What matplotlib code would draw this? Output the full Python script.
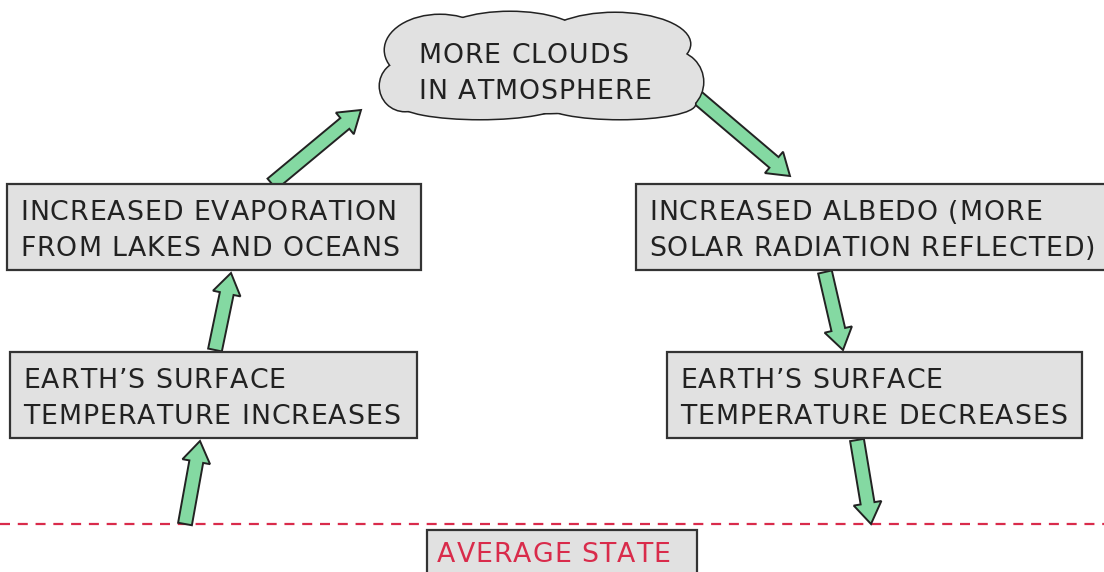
import matplotlib
matplotlib.use("Agg")
import matplotlib.pyplot as plt
from matplotlib.patches import Rectangle, Ellipse, FancyArrow
from matplotlib.font_manager import findfont, FontProperties
from matplotlib.ft2font import FT2Font

W, H = 1104, 572
FAMILY = "DejaVu Sans"

# Diagram content
box_labels = [
    ["INCREASED EVAPORATION", "FROM LAKES AND OCEANS"],
    ["EARTH\u2019S SURFACE", "TEMPERATURE INCREASES"],
    ["INCREASED ALBEDO (MORE", "SOLAR RADIATION REFLECTED)"],
    ["EARTH\u2019S SURFACE", "TEMPERATURE DECREASES"],
]
box_rects = [(7, 184, 414, 86), (10, 352, 407, 86), (636, 184, 480, 86), (667, 352, 415, 86)]
box_text_x = [20, 23, 649, 680]
cloud_label = ["MORE CLOUDS", "IN ATMOSPHERE"]
avg_label = ["AVERAGE STATE"]
arrows = [((185, 524), (200, 441)), ((215, 350), (231, 273)), ((272, 184), (361, 110)),
          ((697, 97), (790, 176)), ((825, 272), (843, 350)), ((857, 440), (871, 524))]

fig = plt.figure(figsize=(W / 100, H / 100), dpi=100)
ax = fig.add_axes([0, 0, 1, 1])
ax.set_xlim(0, W)
ax.set_ylim(H, 0)
ax.axis("off")

BOXFC = "#e1e1e1"
EDGE = "#333333"
GREEN = "#84d9a2"
RED = "#d92b4b"
FS = 19.3
TRACK = 1.0
LINE_GAP = 36

_ft = FT2Font(findfont(FontProperties(family=FAMILY)))
_ft.set_size(FS, 100)


def advance(ch):
    try:
        from matplotlib.ft2font import LoadFlags
        g = _ft.load_char(ord(ch), flags=LoadFlags.NO_HINTING)
    except Exception:
        g = _ft.load_char(ord(ch))
    return g.linearHoriAdvance / 65536.0


def tracked(x, baseline, lines, color, z):
    for i, line in enumerate(lines):
        cx = x
        for ch in line:
            if ch != " ":
                ax.text(cx, baseline + i * LINE_GAP, ch, ha="left", va="baseline",
                        fontsize=FS, family=FAMILY, color=color, zorder=z)
            cx += advance(ch) + TRACK


# Arrows
for (x0, y0), (x1, y1) in arrows:
    ax.add_patch(FancyArrow(x0, y0, x1 - x0, y1 - y0, width=14, head_width=28,
                            head_length=21, length_includes_head=True,
                            fc=GREEN, ec="#222222", lw=1.4, zorder=2))

# Boxes
for (x, y, w, h), tx, lab in zip(box_rects, box_text_x, box_labels):
    ax.add_patch(Rectangle((x, y), w, h, fc=BOXFC, ec=EDGE, lw=1.6, zorder=3))
    tracked(tx, y + 36, lab, "#222222", 4)

# Cloud
bumps = [(543, 68, 300, 90), (440, 50, 110, 70), (510, 36, 140, 48), (615, 44, 150, 62),
         (672, 82, 62, 62), (405, 86, 50, 50), (480, 104, 160, 30), (620, 104, 150, 30)]
for (cx, cy, w, h) in bumps:
    ax.add_patch(Ellipse((cx, cy), w, h, fc=BOXFC, ec="#222222", lw=2.2, zorder=5))
for (cx, cy, w, h) in bumps:
    ax.add_patch(Ellipse((cx, cy), w, h, fc=BOXFC, ec="none", zorder=6))
tracked(418, 63, cloud_label, "#222222", 7)

# Average state line and box
ax.plot([0, W], [524, 524], ls=(0, (4.5, 3.5)), color=RED, lw=1.6, zorder=1)
ax.add_patch(Rectangle((427, 530), 270, 60, fc=BOXFC, ec=EDGE, lw=1.6, zorder=3))
tracked(437, 562, avg_label, RED, 4)

fig.savefig("out.png", dpi=100)
